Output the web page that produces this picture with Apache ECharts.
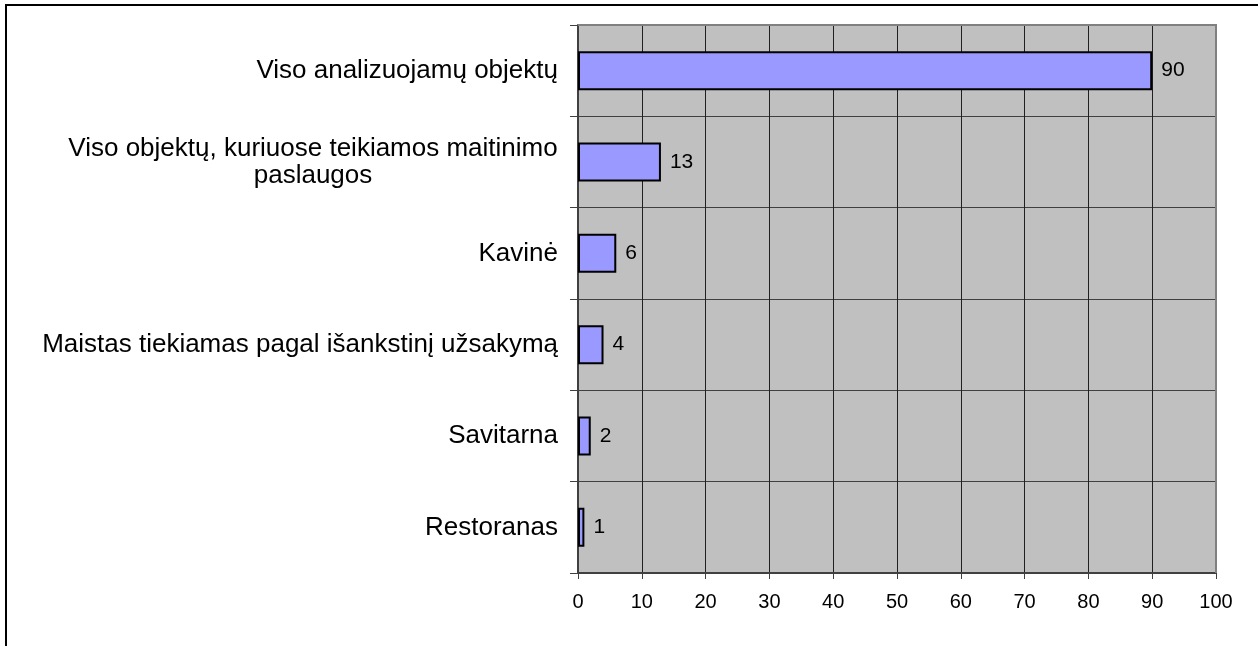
<!DOCTYPE html>
<html>
<head>
    <meta charset="utf-8">
    <title>ECharts</title>
    <script src="https://cdn.jsdelivr.net/npm/echarts@6/dist/echarts.min.js"></script>
    <style>
        html, body { margin: 0; padding: 0; background: #fff; }
    </style>
</head>
<body>
    <div id="main" style="width: 1258px;height:646px;"></div>
    <script type="text/javascript">
        // kategorijos (iš viršaus į apačią) ir reikšmės
        var categories = [
            'Viso analizuojamų objektų',
            'Viso objektų, kuriuose teikiamos maitinimo paslaugos',
            'Kavinė',
            'Maistas tiekiamas pagal išankstinį užsakymą',
            'Savitarna',
            'Restoranas'
        ];
        var values = [90, 13, 6, 4, 2, 1];
        var xTicks = [0, 10, 20, 30, 40, 50, 60, 70, 80, 90, 100];

        var myChart = echarts.init(document.getElementById('main'));
        var font = 'Liberation Sans, Arial, sans-serif';

        var option = {
            animation: false,
            backgroundColor: '#fff',
            graphic: [{
                type: 'rect',
                shape: { x: 6, y: 5, width: 1400, height: 800 },
                style: { fill: 'none', stroke: '#000', lineWidth: 2 },
                z: -1
            }, {
                // plot border top/right (gray)
                type: 'polyline',
                shape: { points: [[578, 25], [1216, 25], [1216, 573]] },
                style: { stroke: '#808080', lineWidth: 2, fill: 'none' },
                z: 5
            }],
            grid: {
                left: 578, right: 42, top: 25, bottom: 73,
                show: true,
                backgroundColor: '#c0c0c0',
                borderWidth: 0
            },
            xAxis: {
                type: 'value',
                min: xTicks[0],
                max: xTicks[xTicks.length - 1],
                interval: 10,
                axisLine: { show: true, lineStyle: { color: '#404040', width: 2 } },
                axisTick: { show: true, length: 6, lineStyle: { color: '#404040', width: 1 } },
                axisLabel: { color: '#000', fontSize: 20, fontFamily: font, margin: 19 },
                splitLine: { show: true, lineStyle: { color: '#202020', width: 1 } }
            },
            yAxis: {
                type: 'category',
                inverse: true,
                data: categories,
                axisLine: { show: true, lineStyle: { color: '#404040', width: 2 } },
                axisTick: { show: true, length: 8, lineStyle: { color: '#404040', width: 1 } },
                splitLine: { show: true, lineStyle: { color: '#404040', width: 1 } },
                axisLabel: {
                    color: '#000', fontSize: 26, fontFamily: font, margin: 20,
                    formatter: function (v) {
                        if (v.indexOf('kuriuose') > -1) {
                            return '{c|Viso objektų, kuriuose teikiamos maitinimo}\n{c|paslaugos}';
                        }
                        return v;
                    },
                    rich: {
                        c: { width: 490, align: 'center', fontSize: 26, fontFamily: font, color: '#000', lineHeight: 27 }
                    }
                }
            },
            series: [{
                type: 'bar',
                data: values,
                barWidth: 39,
                itemStyle: { color: '#9999ff', borderColor: '#000', borderWidth: 2 },
                label: {
                    show: true, position: 'right', distance: 9,
                    color: '#000', fontSize: 21, fontFamily: font
                }
            }]
        };
        myChart.setOption(option);
    </script>
</body>
</html>
